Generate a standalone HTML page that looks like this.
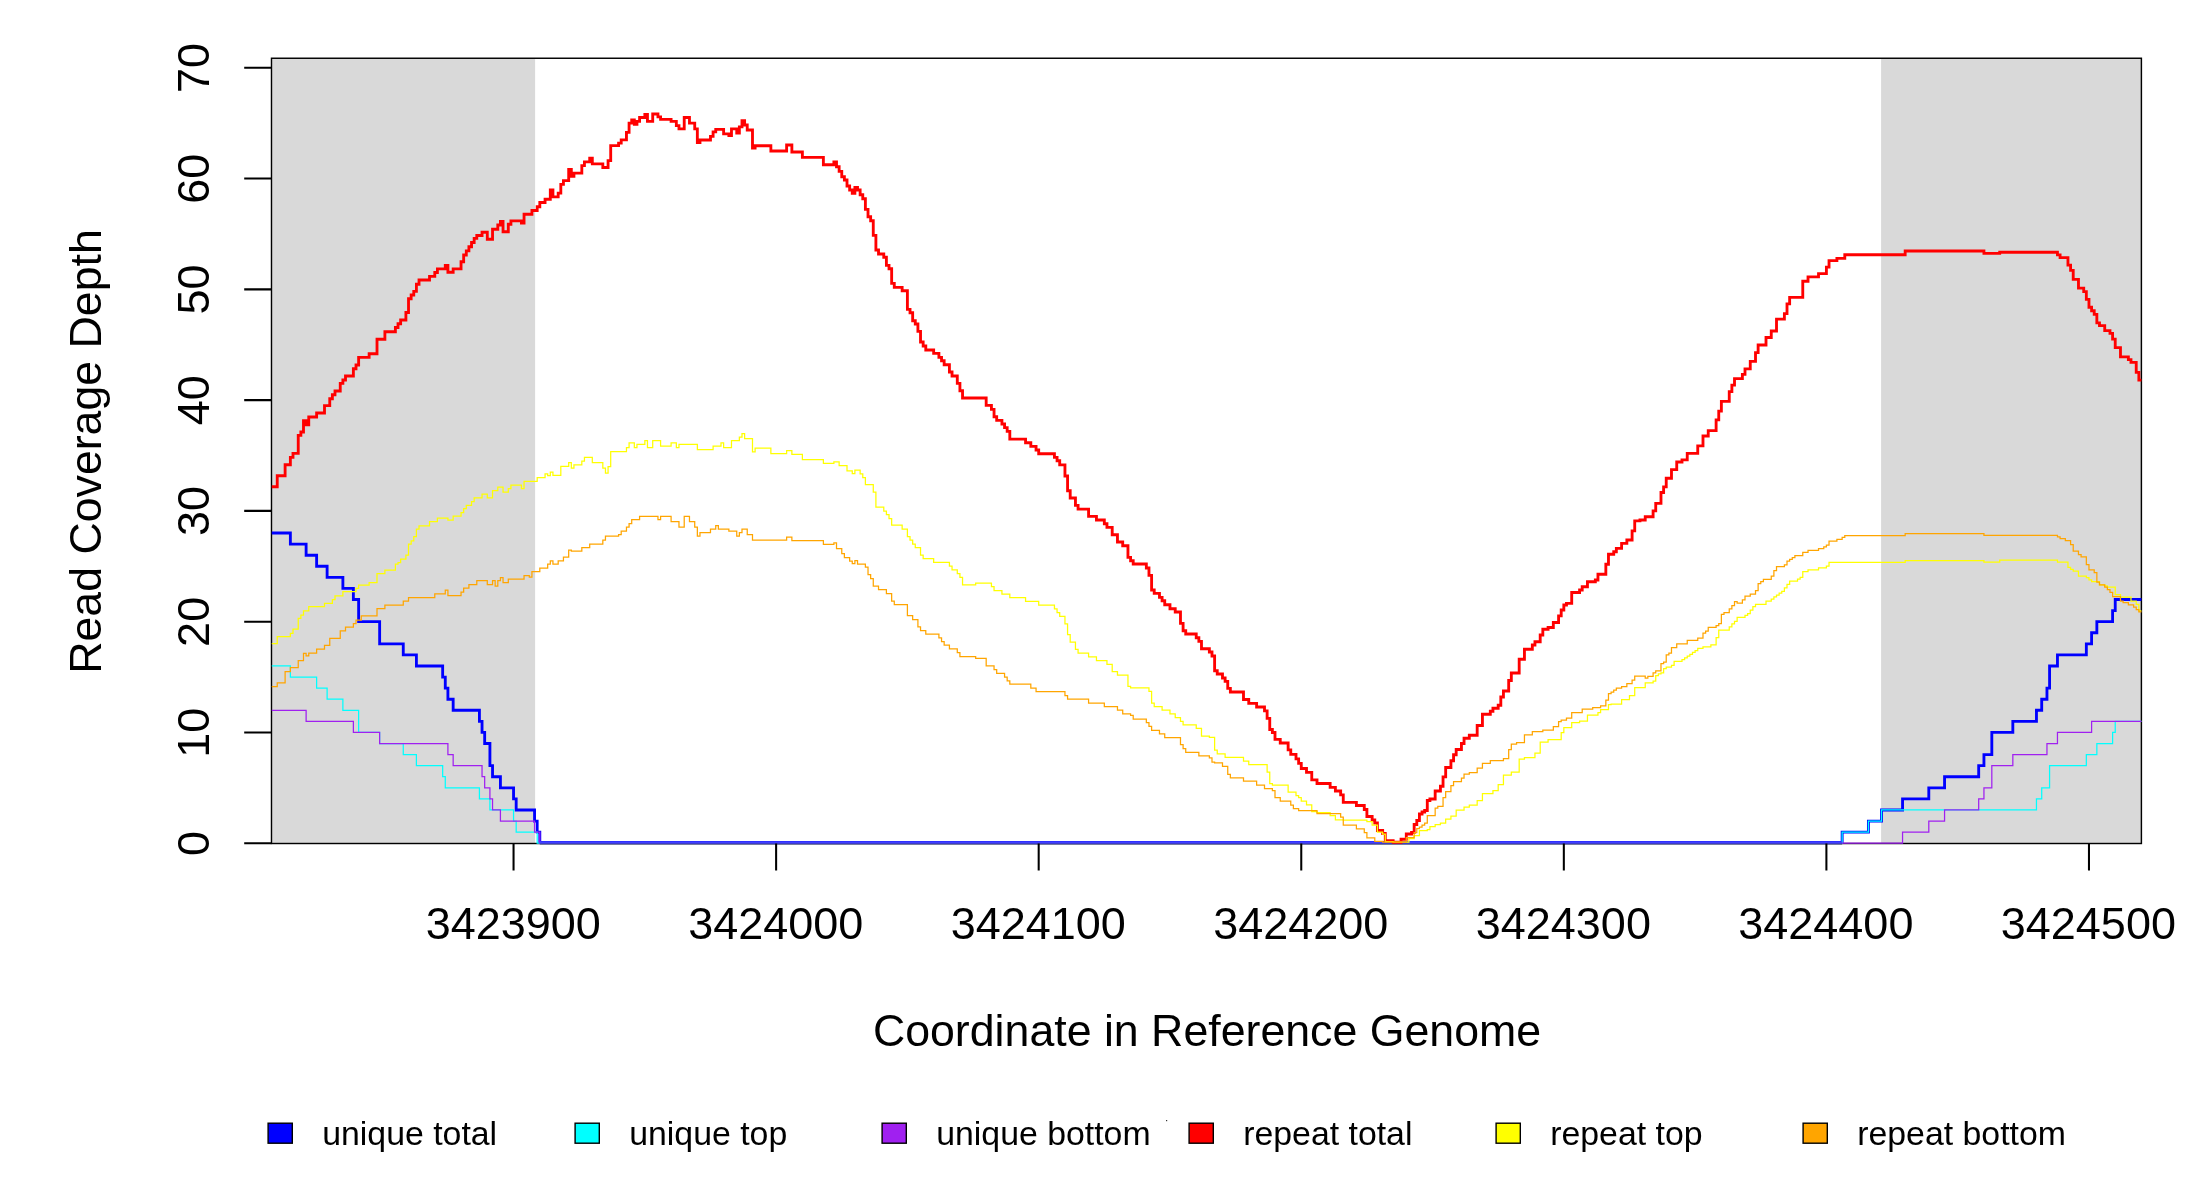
<!DOCTYPE html>
<html><head><meta charset="utf-8">
<style>
html,body{margin:0;padding:0;background:#fff;}
svg{display:block;will-change:transform;}
text{font-family:"Liberation Sans",sans-serif;fill:#000;}
</style></head>
<body>
<svg width="2200" height="1200" viewBox="0 0 2200 1200">
<defs><clipPath id="pc"><rect x="271.5" y="58.25" width="1869.90" height="786.75"/></clipPath></defs>
<rect x="0" y="0" width="2200" height="1200" fill="#fff"/>
<rect x="272.2" y="58.9" width="262.9" height="784" fill="#d9d9d9"/>
<rect x="1881.1" y="58.9" width="260" height="784" fill="#d9d9d9"/>
<rect x="271.5" y="58.25" width="1869.90" height="785.25" fill="none" stroke="#000" stroke-width="1.45"/>
<g clip-path="url(#pc)" fill="none" stroke-linejoin="miter" stroke-linecap="butt">
<path d="M271.50 533.04H290.37V544.12H306.12V555.20H316.62V566.28H327.12V577.35H342.88V588.43H353.38V599.51H358.63V621.66H379.64V643.81H403.27V654.89H416.40V665.97H442.66V677.05H445.28V688.12H447.91V699.20H453.16V710.28H479.42V721.35H482.04V732.43H484.67V743.51H489.92V765.66H492.54V776.74H500.42V787.82H513.55V798.89H516.18V809.97H534.56V821.05H537.18V832.12H539.81V842.30H1842.15V832.12H1868.41V821.05H1881.54V809.97H1902.55V798.89H1928.80V787.82H1944.56V776.74H1978.69V765.66H1983.94V754.58H1991.82V732.43H2012.83V721.35H2036.46V710.28H2041.71V699.20H2046.96V688.12H2049.58V665.97H2057.46V654.89H2086.34V643.81H2091.60V632.74H2096.85V621.66H2112.60V610.58H2115.23V599.51H2142.40" stroke="#0000ff" stroke-width="2.85"/>
<path d="M271.50 665.97H290.37V677.05H316.62V688.12H327.12V699.20H342.88V710.28H358.63V732.43H379.64V743.51H403.27V754.58H416.40V765.66H442.66V776.74H445.28V787.82H479.42V798.89H489.92V809.97H513.55V821.05H516.18V832.12H537.18V843.20H1842.15V832.12H1868.41V821.05H1881.54V809.97H2036.46V798.89H2041.71V787.82H2049.58V765.66H2086.34V754.58H2096.85V743.51H2112.60V732.43H2115.23V721.35H2142.40" stroke="#00ffff" stroke-width="1.25"/>
<path d="M271.50 710.28H306.12V721.35H353.38V732.43H379.64V743.51H447.91V754.58H453.16V765.66H482.04V776.74H484.67V787.82H489.92V798.89H492.54V809.97H500.42V821.05H534.56V832.12H539.81V843.20H1902.55V832.12H1928.80V821.05H1944.56V809.97H1978.69V798.89H1983.94V787.82H1991.82V765.66H2012.83V754.58H2046.96V743.51H2057.46V732.43H2091.60V721.35H2142.40" stroke="#a020f0" stroke-width="1.25"/>
<path d="M539.81 843.95H1842.15" stroke="#26307a" stroke-width="1.3"/>
<path d="M539.81 842.45H1842.15" stroke="#4040ff" stroke-width="2.3"/>
<path d="M271.50 486.70H277.24V475.70H285.11V464.70H290.37V457.30H292.99V453.30H298.24V435.30H300.87V432.00H303.49V420.70H306.12V424.70H308.75V417.00H316.62V413.00H324.50V405.60H329.75V398.70H332.38V394.70H335.00V391.00H340.25V383.30H342.88V380.00H345.50V376.00H353.38V368.70H356.01V365.00H358.63V357.30H369.14V353.70H377.01V339.20H384.89V331.70H395.39V327.50H398.02V323.70H400.64V320.00H405.90V312.50H408.52V298.70H411.15V295.00H413.77V291.30H416.40V284.20H419.02V280.00H429.53V276.30H434.78V272.50H437.40V268.80H445.28V265.30H447.91V272.20H453.16V268.80H461.04V261.70H463.66V255.00H466.29V250.80H468.91V246.70H471.54V242.50H474.16V238.30H476.79V235.50H482.04V232.20H487.29V239.20H492.54V229.20H497.80V225.00H500.42V221.30H503.05V231.70H508.30V224.20H510.92V220.80H521.43V223.00H524.05V214.20H531.93V210.50H537.18V206.70H539.81V202.50H545.06V199.20H550.31V190.00H552.93V196.90H558.19V193.10H560.81V184.40H563.44V180.60H568.69V169.40H571.32V176.30H573.94V173.10H581.82V165.60H584.44V161.90H589.70V158.10H592.32V163.80H602.82V167.50H608.08V160.60H610.70V145.60H618.58V143.10H621.20V139.80H626.46V132.30H629.08V123.10H631.71V120.00H634.33V124.40H636.96V121.30H639.58V117.50H644.84V114.40H647.46V121.30H652.71V114.00H657.96V116.90H660.59V119.40H671.09V121.30H676.34V125.60H678.97V128.80H684.22V117.50H689.47V123.10H694.72V128.80H697.35V142.50H699.98V140.00H710.48V136.30H713.10V131.90H715.73V129.40H720.98V129.40H723.61V133.80H728.86V135.60H731.48V128.80H736.74V133.10H739.36V126.90H741.99V120.60H744.61V125.00H747.24V130.00H752.49V148.00H755.11V145.70H770.87V151.00H786.62V145.00H791.87V152.00H802.38V157.30H823.38V164.70H833.88V162.00H836.51V166.70H839.14V171.30H841.76V176.70H844.39V180.00H847.01V186.00H849.64V190.00H852.26V193.30H854.89V187.30H857.52V190.00H860.14V194.70H862.77V198.70H865.39V209.30H868.02V216.70H870.64V220.70H873.27V235.30H875.90V250.00H878.52V254.00H883.77V257.30H886.40V265.30H889.02V268.70H891.65V283.30H894.28V287.30H902.15V290.70H907.40V309.30H910.03V312.70H912.66V320.70H915.28V324.00H917.91V331.30H920.53V342.00H923.16V346.00H925.78V350.00H933.66V353.30H938.91V357.30H941.54V360.70H944.16V364.70H949.42V372.00H952.04V376.00H957.29V383.30H959.92V390.70H962.54V398.00H986.18V405.30H991.43V409.30H994.05V416.70H996.68V420.40H1001.93V424.00H1004.56V427.60H1007.18V431.30H1009.81V439.10H1025.56V442.70H1030.81V446.30H1036.06V450.00H1038.69V453.70H1054.44V457.30H1057.07V460.70H1059.70V464.90H1064.95V476.00H1067.57V490.70H1070.20V498.00H1075.45V505.30H1078.08V509.10H1088.58V516.40H1096.45V520.00H1104.33V523.70H1106.96V527.30H1112.21V534.70H1117.46V542.00H1122.71V545.70H1127.96V557.30H1130.59V560.70H1133.21V564.00H1146.34V568.00H1148.97V575.30H1151.60V590.00H1154.22V593.30H1159.47V597.30H1162.10V600.70H1164.72V604.70H1169.97V608.70H1175.23V612.00H1180.48V623.30H1183.10V630.70H1185.73V634.00H1196.23V637.70H1198.86V641.30H1201.48V648.70H1209.36V652.00H1211.99V656.00H1214.61V670.70H1217.24V674.00H1222.49V678.00H1225.12V681.30H1227.74V688.30H1230.37V692.00H1243.49V699.50H1248.75V703.30H1256.62V707.00H1264.50V710.80H1267.13V718.30H1269.75V729.50H1272.38V732.50H1275.00V739.30H1280.25V743.00H1288.13V749.80H1290.76V754.30H1296.01V758.80H1298.63V763.30H1301.26V768.50H1306.51V772.30H1311.76V779.80H1317.01V783.50H1330.14V787.30H1335.39V791.00H1340.65V794.80H1343.27V802.30H1356.40V805.50H1364.28V809.50H1366.90V816.50H1372.15V820.00H1374.78V823.00H1377.40V830.50H1382.66V833.50H1385.28V840.75H1393.16V842.20H1401.04V839.25H1406.29V834.00H1411.54V832.50H1414.16V824.50H1416.79V820.50H1419.42V814.00H1422.04V812.00H1424.67V810.50H1427.29V800.50H1429.92V799.00H1435.17V791.00H1440.42V786.20H1443.05V776.80H1445.67V767.50H1450.92V760.70H1453.55V754.70H1456.18V749.50H1461.43V743.50H1464.05V738.20H1469.31V735.20H1477.18V725.50H1482.43V714.20H1490.31V711.20H1492.94V708.20H1498.19V705.20H1500.81V697.00H1503.44V691.00H1508.69V680.50H1511.32V673.00H1519.19V659.20H1524.44V649.20H1532.32V645.00H1534.95V641.70H1540.20V635.00H1542.82V629.20H1548.08V627.50H1553.33V622.50H1558.58V615.80H1561.20V610.00H1563.83V605.00H1566.46V603.30H1571.71V592.50H1579.58V590.00H1582.21V586.70H1587.46V581.70H1595.34V580.00H1597.96V574.20H1605.84V564.20H1608.47V554.20H1613.72V551.70H1616.34V548.30H1621.60V543.30H1626.85V540.00H1632.10V530.80H1634.72V520.80H1639.97V520.00H1645.23V516.70H1653.10V510.80H1655.73V503.30H1660.98V492.50H1663.61V486.90H1666.23V478.20H1671.48V469.60H1676.73V462.00H1681.99V459.80H1687.24V453.30H1697.74V445.80H1702.99V436.00H1708.24V430.60H1716.12V419.80H1718.75V411.10H1721.37V401.40H1729.25V391.60H1731.88V385.10H1734.50V378.60H1742.38V374.30H1745.00V368.90H1750.26V361.30H1755.51V352.60H1758.13V345.00H1766.01V337.50H1771.26V331.00H1776.51V319.10H1784.39V313.60H1787.01V303.90H1789.64V297.40H1802.77V281.20H1808.02V276.80H1818.52V273.60H1826.40V267.10H1829.03V260.60H1836.90V258.40H1844.78V254.70H1905.17V251.00H1983.94V253.40H1999.70V252.20H2057.46V254.80H2060.09V257.60H2067.96V265.10H2070.59V270.40H2073.22V279.30H2078.47V288.10H2083.72V291.60H2086.34V299.40H2088.97V307.20H2091.60V310.70H2094.22V314.30H2096.85V322.80H2099.47V325.60H2104.72V330.60H2109.98V333.40H2112.60V339.10H2115.23V347.60H2120.48V356.80H2128.36V359.60H2130.98V362.40H2136.23V372.40H2138.86V380.10H2142.40" stroke="#ff0000" stroke-width="2.85"/>
<path d="M271.50 643.50H277.24V636.70H290.37V633.30H292.99V629.20H298.24V618.30H300.87V615.00H303.49V610.80H308.75V606.70H324.50V603.30H332.38V599.70H335.00V595.80H342.88V591.70H356.01V588.30H358.63V585.00H369.14V582.50H377.01V573.70H384.89V570.00H395.39V564.20H398.02V562.50H400.64V559.20H405.90V555.00H408.52V544.20H411.15V540.80H413.77V536.70H416.40V529.20H419.02V525.80H429.53V521.50H437.40V518.20H447.91V520.00H453.16V516.20H461.04V512.50H463.66V508.70H466.29V505.30H471.54V501.70H474.16V497.80H482.04V494.20H487.29V497.80H492.54V490.70H497.80V487.00H503.05V492.20H508.30V488.50H510.92V485.20H521.43V488.50H524.05V481.30H537.18V477.70H545.06V473.80H547.68V475.70H550.31V472.00H552.93V475.30H560.81V466.30H568.69V462.70H571.32V468.20H573.94V464.80H581.82V461.20H584.44V457.30H592.32V462.70H602.82V468.00H605.45V473.20H608.08V466.50H610.70V451.50H626.46V447.70H629.08V442.80H634.33V447.70H636.96V444.30H644.84V440.70H647.46V447.70H652.71V440.70H660.59V446.20H671.09V442.80H676.34V447.70H678.97V444.30H697.35V449.70H713.10V446.20H720.98V442.80H723.61V447.70H731.48V440.70H739.36V437.20H741.99V433.50H744.61V438.70H752.49V451.80H755.11V448.20H770.87V453.70H786.62V450.70H791.87V454.30H802.38V459.70H823.38V463.30H833.88V461.80H839.14V465.70H847.01V470.80H852.26V473.50H854.89V470.20H860.14V473.80H862.77V477.70H865.39V484.70H873.27V492.20H875.90V507.20H883.77V511.00H886.40V514.70H889.02V518.50H891.65V525.20H902.15V529.00H907.40V536.50H910.03V540.20H912.66V544.00H915.28V547.70H920.53V555.20H923.16V558.70H933.66V562.30H949.42V566.20H952.04V569.80H957.29V573.70H959.92V577.30H962.54V584.80H975.67V583.00H991.43V586.70H994.05V590.50H1001.93V594.20H1009.81V597.70H1025.56V601.30H1038.69V605.20H1054.44V608.80H1057.07V612.70H1059.70V616.30H1064.95V623.80H1067.57V634.70H1070.20V642.20H1075.45V649.30H1078.08V653.20H1088.58V656.80H1096.45V660.70H1106.96V664.30H1112.21V671.60H1117.46V675.10H1127.96V686.40H1130.59V687.90H1148.97V691.40H1151.60V703.10H1154.22V706.60H1162.10V710.10H1169.97V713.90H1175.23V717.70H1180.48V721.40H1183.10V724.90H1196.23V728.40H1201.48V736.10H1209.36V737.30H1214.61V750.10H1217.24V753.80H1225.12V757.30H1243.49V761.00H1248.75V764.70H1267.13V772.20H1269.75V783.50H1272.38V785.00H1288.13V792.20H1296.01V795.50H1298.63V797.70H1301.26V801.20H1306.51V804.80H1311.76V811.70H1317.01V812.70H1330.14V815.70H1335.39V819.80H1343.27V820.20H1366.90V821.50H1372.15V825.00H1377.40V832.00H1382.66V834.00H1385.28V841.50H1393.16V842.20H1408.91V838.50H1414.16V835.50H1419.42V830.50H1427.29V829.50H1429.92V826.50H1435.17V824.50H1440.42V823.00H1445.67V819.20H1450.92V816.20H1456.18V810.20H1464.05V807.20H1469.31V805.00H1477.18V800.50H1482.43V793.70H1492.94V790.70H1498.19V784.70H1503.44V775.00H1511.32V772.00H1519.19V759.20H1524.44V757.70H1534.95V753.20H1540.20V742.00H1548.08V739.70H1561.20V732.50H1563.83V727.70H1571.71V722.70H1579.58V721.20H1587.46V715.20H1597.96V712.70H1600.59V709.70H1608.47V704.70H1611.09V704.00H1621.60V699.50H1629.47V695.70H1634.72V687.50H1645.23V682.75H1653.10V681.00H1655.73V675.50H1658.36V673.75H1660.98V672.75H1663.61V668.50H1666.23V667.00H1671.48V665.25H1674.11V661.25H1681.99V659.50H1684.61V657.75H1687.24V656.00H1689.86V654.25H1692.49V652.25H1695.12V650.50H1697.74V648.25H1702.99V646.90H1710.87V644.80H1716.12V637.50H1718.75V630.00H1729.25V626.90H1731.88V623.80H1734.50V621.30H1737.13V617.30H1745.00V615.30H1747.63V613.50H1750.26V610.00H1752.88V606.50H1755.51V604.40H1766.01V601.00H1771.26V599.00H1773.89V596.90H1776.51V595.00H1779.14V593.10H1781.76V591.30H1784.39V587.80H1787.01V584.40H1789.64V581.00H1797.52V579.00H1800.14V577.30H1802.77V571.50H1808.02V569.80H1818.52V567.80H1826.40V566.00H1829.03V562.30H1905.17V560.60H1983.94V562.10H1999.70V560.10H2057.46V562.00H2067.96V567.40H2070.59V569.40H2073.22V571.20H2078.47V576.10H2086.34V577.70H2088.97V579.90H2091.60V581.50H2099.47V584.80H2104.72V585.80H2107.35V587.10H2115.23V594.50H2120.48V597.20H2130.98V601.00H2136.23V604.30H2138.86V610.80H2142.40" stroke="#ffff00" stroke-width="1.25"/>
<path d="M271.50 686.50H277.24V682.80H285.11V671.70H290.37V667.50H298.24V660.50H303.49V653.30H306.12V655.80H308.75V653.00H316.62V649.20H324.50V645.30H329.75V638.30H340.25V630.80H345.50V627.00H353.38V623.70H356.01V620.00H361.26V615.80H377.01V608.70H384.89V605.00H403.27V601.20H408.52V597.50H434.78V593.80H445.28V590.20H447.91V595.70H461.04V592.00H463.66V588.20H468.91V584.50H476.79V580.70H487.29V584.50H492.54V580.70H495.17V586.00H497.80V580.70H500.42V577.70H503.05V582.70H508.30V579.20H524.05V575.50H529.30V577.00H531.93V571.70H539.81V568.00H547.68V564.20H550.31V560.80H552.93V564.20H558.19V560.80H563.44V557.20H568.69V550.00H571.32V551.20H581.82V547.70H589.70V544.00H602.82V540.00H605.45V536.20H618.58V534.70H621.20V531.00H626.46V527.20H629.08V523.50H631.71V519.70H639.58V516.30H657.96V519.70H660.59V516.30H671.09V521.70H678.97V527.20H684.22V516.30H689.47V521.70H694.72V527.20H697.35V536.20H699.98V532.50H710.48V529.20H715.73V525.70H718.36V529.20H728.86V531.00H736.74V536.20H739.36V532.50H741.99V529.20H747.24V534.70H752.49V540.00H786.62V537.20H791.87V540.70H823.38V544.30H833.88V542.80H836.51V548.50H841.76V553.70H844.39V557.50H849.64V561.20H852.26V563.50H854.89V560.50H857.52V564.00H865.39V567.20H868.02V574.70H870.64V578.50H873.27V586.00H878.52V589.70H886.40V593.60H891.65V601.00H894.28V604.60H907.40V615.70H912.66V619.50H917.91V626.80H920.53V630.50H925.78V634.00H938.91V637.80H941.54V641.60H944.16V645.10H949.42V648.90H957.29V652.70H959.92V656.50H975.67V658.30H986.18V665.80H994.05V669.70H996.68V673.30H1004.56V677.20H1007.18V680.80H1009.81V684.20H1030.81V688.00H1036.06V691.70H1064.95V695.50H1067.57V699.20H1088.58V703.00H1104.33V706.70H1117.46V710.10H1122.71V713.90H1130.59V715.30H1133.21V719.10H1146.34V722.60H1148.97V726.40H1151.60V730.30H1159.47V733.80H1164.72V737.50H1180.48V744.70H1183.10V748.60H1185.73V752.40H1198.86V755.90H1209.36V757.90H1211.99V762.00H1214.61V762.90H1222.49V766.40H1227.74V774.30H1230.37V777.80H1243.49V781.20H1256.62V785.00H1264.50V788.70H1272.38V790.70H1275.00V797.70H1280.25V801.20H1290.76V805.20H1293.38V808.70H1298.63V810.50H1317.01V813.50H1340.65V817.20H1343.27V825.00H1356.40V828.75H1364.28V832.50H1366.90V837.75H1374.78V841.25H1382.66V842.20H1406.29V837.50H1414.16V832.50H1416.79V828.50H1419.42V827.00H1422.04V825.00H1424.67V823.00H1427.29V815.50H1435.17V808.00H1437.80V806.25H1443.05V797.50H1445.67V791.50H1450.92V785.50H1453.55V781.70H1461.43V778.00H1464.05V774.20H1469.31V772.70H1477.18V768.20H1482.43V763.30H1490.31V760.70H1503.44V758.50H1508.69V749.50H1511.32V744.20H1516.57V742.70H1524.44V734.80H1532.32V731.50H1542.82V730.00H1553.33V726.50H1558.58V721.70H1561.20V720.20H1566.46V718.20H1571.71V712.70H1582.21V709.20H1592.71V707.70H1600.59V705.80H1605.84V700.20H1608.47V693.50H1611.09V692.00H1613.72V690.20H1616.34V688.20H1621.60V686.70H1626.85V683.70H1632.10V680.00H1634.72V676.20H1645.23V678.00H1647.85V676.25H1653.10V672.75H1655.73V670.75H1660.98V663.50H1663.61V662.00H1666.23V654.75H1668.86V653.00H1671.48V647.50H1676.73V643.75H1687.24V640.25H1697.74V638.00H1702.99V633.10H1705.62V631.00H1708.24V627.30H1716.12V625.60H1718.75V623.50H1721.37V614.40H1724.00V612.50H1729.25V608.80H1731.88V605.60H1734.50V601.50H1737.13V603.10H1742.38V599.80H1745.00V596.00H1750.26V594.00H1755.51V590.60H1758.13V583.50H1760.76V581.50H1763.38V579.40H1771.26V576.00H1773.89V570.60H1776.51V566.50H1784.39V564.80H1787.01V561.00H1789.64V559.40H1792.27V557.50H1794.89V555.60H1802.77V552.30H1808.02V550.30H1818.52V548.50H1823.77V546.90H1826.40V545.00H1829.03V541.00H1836.90V539.40H1842.15V537.30H1844.78V535.60H1905.17V533.70H1983.94V535.30H2057.46V536.90H2060.09V538.70H2065.34V540.60H2070.59V544.50H2073.22V551.20H2078.47V554.60H2081.09V556.80H2086.34V564.70H2088.97V569.80H2094.22V572.60H2096.85V582.00H2099.47V584.80H2104.72V587.10H2107.35V589.60H2109.98V592.30H2112.60V596.70H2120.48V601.00H2123.10V602.60H2128.36V604.80H2133.61V607.00H2136.23V609.70H2138.86V611.80H2142.40" stroke="#ffa500" stroke-width="1.25"/>
</g>
<g stroke="#000" stroke-width="2.05" fill="none">
<path d="M244.2 843.20H271.5M244.2 732.43H271.5M244.2 621.66H271.5M244.2 510.89H271.5M244.2 400.12H271.5M244.2 289.35H271.5M244.2 178.58H271.5M244.2 67.81H271.5"/>
<path d="M513.55 843.5V870.6M776.12 843.5V870.6M1038.69 843.5V870.6M1301.26 843.5V870.6M1563.83 843.5V870.6M1826.40 843.5V870.6M2088.97 843.5V870.6"/>
</g>
<g font-size="45" text-anchor="middle">
<text x="513.25" y="939">3423900</text>
<text x="775.77" y="939">3424000</text>
<text x="1038.29" y="939">3424100</text>
<text x="1300.81" y="939">3424200</text>
<text x="1563.33" y="939">3424300</text>
<text x="1825.85" y="939">3424400</text>
<text x="2088.37" y="939">3424500</text>
</g>
<g font-size="45" text-anchor="middle">
<text transform="translate(208.6 843.40) rotate(-90)">0</text>
<text transform="translate(208.6 732.63) rotate(-90)">10</text>
<text transform="translate(208.6 621.86) rotate(-90)">20</text>
<text transform="translate(208.6 511.09) rotate(-90)">30</text>
<text transform="translate(208.6 400.32) rotate(-90)">40</text>
<text transform="translate(208.6 289.55) rotate(-90)">50</text>
<text transform="translate(208.6 178.78) rotate(-90)">60</text>
<text transform="translate(208.6 68.01) rotate(-90)">70</text>
</g>
<text font-size="44.7" text-anchor="middle" transform="translate(101 451.5) rotate(-90)">Read Coverage Depth</text>
<text font-size="44.7" text-anchor="middle" x="1207" y="1045.8">Coordinate in Reference Genome</text>
<g font-size="33.85">
<rect x="268.1" y="1123.2" width="24.2" height="20" fill="#0000ff" stroke="#000" stroke-width="1.4"/>
<text x="322.2" y="1145">unique total</text>
<rect x="575.1" y="1123.2" width="24.2" height="20" fill="#00ffff" stroke="#000" stroke-width="1.4"/>
<text x="629.2" y="1145">unique top</text>
<rect x="882.1" y="1123.2" width="24.2" height="20" fill="#a020f0" stroke="#000" stroke-width="1.4"/>
<text x="936.2" y="1145">unique bottom</text>
<rect x="1189.1" y="1123.2" width="24.2" height="20" fill="#ff0000" stroke="#000" stroke-width="1.4"/>
<text x="1243.2" y="1145">repeat total</text>
<rect x="1496.1" y="1123.2" width="24.2" height="20" fill="#ffff00" stroke="#000" stroke-width="1.4"/>
<text x="1550.2" y="1145">repeat top</text>
<rect x="1803.1" y="1123.2" width="24.2" height="20" fill="#ffa500" stroke="#000" stroke-width="1.4"/>
<text x="1857.2" y="1145">repeat bottom</text>
<rect x="1166" y="1120" width="1.2" height="1.2" fill="#333"/>
</g>
</svg>
</body></html>
